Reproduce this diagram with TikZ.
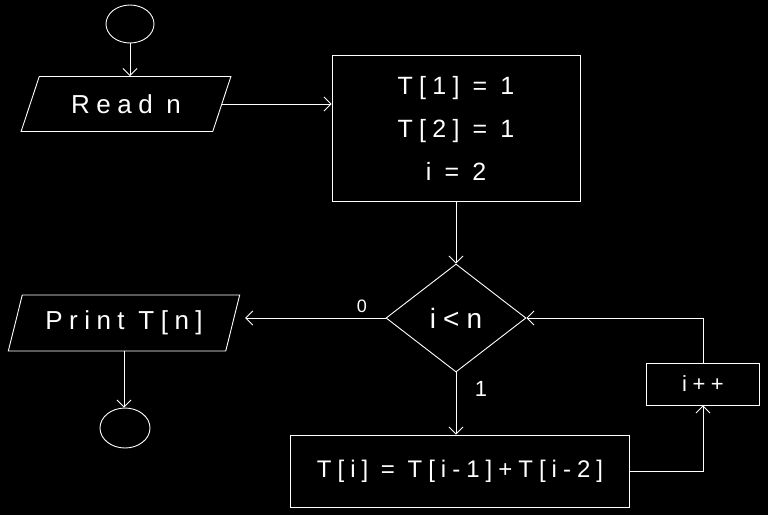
\documentclass[tikz,border=0pt]{standalone}
\usepackage{fontspec}
\newfontfamily\hand[LetterSpace=25]{Liberation Sans}
\usetikzlibrary{shapes.geometric,arrows.meta}
\begin{document}
\begin{tikzpicture}[x=1pt,y=-1pt,
  box/.style={draw=white, text=white, line width=0.9pt, inner sep=0pt},
  para/.style={box, trapezium, trapezium stretches=true},
  term/.style={box, ellipse},
  arr/.style={draw=white, line width=0.9pt, -{Straight Barb[length=7pt,width=14pt]}},
  lbl/.style={text=white, inner sep=0pt}]
\useasboundingbox (0,0) rectangle (768,515);
\fill[black] (0,0) rectangle (768,515);
% nodes
\node[term, minimum width=48pt, minimum height=38pt] (start) at (130,24) {};
\node[para, trapezium left angle=59, trapezium right angle=121,
      minimum width=210pt, minimum height=55pt,
      font=\hand\fontsize{26}{26}\selectfont] (read) at (126,104) {Read n};
\node[box, rectangle, minimum width=248pt, minimum height=146pt, align=center,
      font=\hand\fontsize{25}{43}\selectfont] (init) at (456,128) {T[1] = 1\\T[2] = 1\\i = 2};
\node[box, diamond, minimum width=140pt, minimum height=108pt,
      font=\hand\fontsize{28}{28}\selectfont] (dec) at (456,318) {i<n};
\node[para, trapezium left angle=66, trapezium right angle=114,
      minimum width=232pt, minimum height=56pt,
      font=\hand\fontsize{26}{26}\selectfont] (print) at (124,323) {Print T[n]};
\node[term, minimum width=50pt, minimum height=40pt] (end) at (125,428) {};
\node[box, rectangle, minimum width=339pt, minimum height=72pt,
      font=\hand\fontsize{24}{24}\selectfont] (comp) at (460,471) {T[i] = T[i-1]+T[i-2]};
\node[box, rectangle, minimum width=113pt, minimum height=42pt,
      font=\hand\fontsize{22}{22}\selectfont] (inc) at (703,384) {i++};
\node[lbl, font=\hand\fontsize{18}{18}\selectfont] (zero) at (362,306) {0};
\node[lbl, font=\hand\fontsize{22}{22}\selectfont] (one) at (481,389) {1};
% connectors
\draw[arr] (start.south) -- (start.south |- read.north);
\draw[arr] (read.east) -- (read.east -| init.west);
\draw[arr] (init.south) -- (init.south |- dec.north);
\draw[arr, shorten >=12pt] (dec.west) -- (dec.west -| print.east);
\draw[arr] (print.south) -- (print.south |- end.north);
\draw[arr] (dec.south) -- (dec.south |- comp.north);
\draw[arr] (comp.east) -| (inc.south);
\draw[arr] (inc.north) |- (dec.east);
\end{tikzpicture}
\end{document}
